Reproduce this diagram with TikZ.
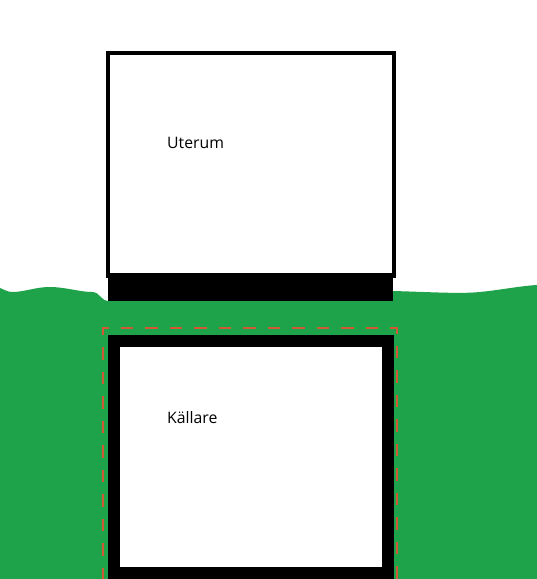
\documentclass[tikz,border=0pt]{standalone}
\usepackage{fontspec}
\setmainfont{Open Sans}
\definecolor{ground}{HTML}{1FA34A}
\definecolor{dashc}{HTML}{D05A35}
\begin{document}
\begin{tikzpicture}[x=1pt,y=-1pt,
  roomlabel/.style={anchor=west,inner sep=0pt,font=\fontsize{15.8}{19}\selectfont},
  wallthin/.style={draw=black,line width=4pt,fill=white},
  wallthick/.style={draw=black,line width=12pt,fill=white},
  insul/.style={draw=dashc,line width=1.8pt,dash pattern=on 12.5pt off 12pt}]
\useasboundingbox (0,0) rectangle (537,579);
\fill[white] (0,0) rectangle (537,579);
% ground
\fill[ground] (0,288) .. controls (5,290) and (8,292) .. (12,292)
  .. controls (25,292) and (35,287) .. (50,287)
  .. controls (65,287) and (80,292) .. (92,292)
  .. controls (100,292) and (100,300) .. (108,301)
  -- (393,301) -- (393,291)
  .. controls (430,292) and (460,294) .. (480,292)
  .. controls (500,290) and (520,286) .. (537,285)
  -- (537,579) -- (0,579) -- cycle;
% upper room
\node[wallthin,minimum width=286pt,minimum height=223pt,inner sep=0pt] (uterum) at (251,164.5) {};
\node[fill=black,minimum width=285pt,minimum height=28pt,inner sep=0pt] (slab) at (250.5,287) {};
\node[roomlabel] (ulabel) at (167,143) {Uterum};
% basement
\coordinate (dl) at (103,580);
\coordinate (dtl) at (103,328);
\coordinate (dtr) at (397,328);
\coordinate (dr) at (397,580);
\draw[insul] (dl) -- (dtl) -- (dtr) -- (dr);
\node[wallthick,minimum width=274pt,minimum height=232pt,inner sep=0pt] (kallare) at (250.5,457) {};
\node[roomlabel] (klabel) at (167,418) {Källare};
\end{tikzpicture}
\end{document}
